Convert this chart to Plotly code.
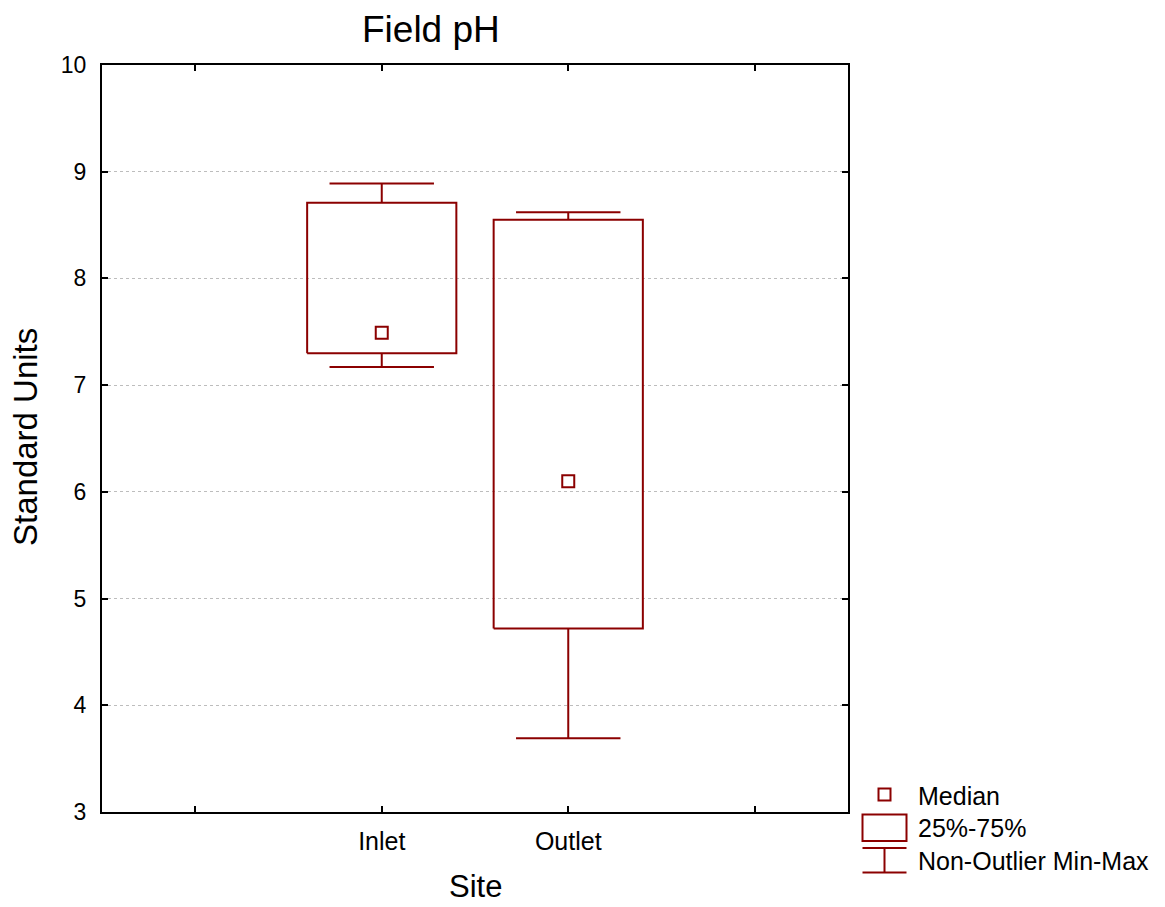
import plotly.graph_objects as go

# ---- data ----
sites = ["Inlet", "Outlet"]
site_pos = [1, 2]
minimum = [7.17, 3.69]
q1 = [7.30, 4.72]
median = [7.49, 6.10]
q3 = [8.71, 8.55]
maximum = [8.89, 8.62]
y_ticks = [3, 4, 5, 6, 7, 8, 9, 10]
x_tickvals = [0, 1, 2, 3]
x_ticktext = ["", "Inlet", "Outlet", ""]

COLOR = "#8B0000"
FONT = "Liberation Sans, Arial, sans-serif"
W, H = 1165, 907
L, R, T, B = 102, 317, 65, 95
PW, PH = W - L - R, H - T - B
BOX_HALF = 0.4
CAP_HALF = 0.28

fig = go.Figure()

for c, lo, a, m, b, hi in zip(site_pos, minimum, q1, median, q3, maximum):
    # box (25%-75%)
    fig.add_trace(go.Scatter(
        x=[c - BOX_HALF, c + BOX_HALF, c + BOX_HALF, c - BOX_HALF, c - BOX_HALF],
        y=[a, a, b, b, a], mode="lines",
        line=dict(color=COLOR, width=2), showlegend=False, hoverinfo="skip"))
    # whiskers
    fig.add_trace(go.Scatter(
        x=[c, c, None, c - CAP_HALF, c + CAP_HALF, None, c, c, None, c - CAP_HALF, c + CAP_HALF],
        y=[b, hi, None, hi, hi, None, a, lo, None, lo, lo], mode="lines",
        line=dict(color=COLOR, width=2), showlegend=False, hoverinfo="skip"))

# median markers
fig.add_trace(go.Scatter(
    x=site_pos, y=median, mode="markers",
    marker=dict(symbol="square-open", size=12, color=COLOR, line=dict(width=2, color=COLOR)),
    showlegend=False))


def px(xp):
    return (xp - L) / PW


def py(yp):
    return (H - B - yp) / PH


shapes = []
# legend symbols
shapes.append(dict(type="rect", xref="paper", yref="paper",
                   x0=px(878.5), x1=px(890.5), y0=py(800.5), y1=py(788.5),
                   line=dict(color=COLOR, width=2)))
shapes.append(dict(type="rect", xref="paper", yref="paper",
                   x0=px(862.5), x1=px(906.5), y0=py(841), y1=py(814.5),
                   line=dict(color=COLOR, width=2)))
for yy in (848, 872.5):
    shapes.append(dict(type="line", xref="paper", yref="paper",
                       x0=px(862.5), x1=px(906.5), y0=py(yy), y1=py(yy),
                       line=dict(color=COLOR, width=2)))
shapes.append(dict(type="line", xref="paper", yref="paper",
                   x0=px(884.5), x1=px(884.5), y0=py(848), y1=py(872.5),
                   line=dict(color=COLOR, width=2)))

legend_labels = ["Median", "25%-75%", "Non-Outlier Min-Max"]
legend_y = [796, 828, 861]
annotations = []
for lab, yy in zip(legend_labels, legend_y):
    annotations.append(dict(text=lab, xref="paper", yref="paper", x=px(916), y=py(yy),
                            xanchor="left", yanchor="middle", showarrow=False,
                            font=dict(family=FONT, size=25, color="black")))

annotations.append(dict(text="Field pH", xref="paper", yref="paper", x=px(431), y=py(29),
                        xanchor="center", yanchor="middle", showarrow=False,
                        font=dict(family=FONT, size=37, color="black")))
annotations.append(dict(text="Standard Units", xref="paper", yref="paper", x=px(25), y=py(437),
                        xanchor="center", yanchor="middle", showarrow=False, textangle=-90,
                        font=dict(family=FONT, size=33, color="black")))
annotations.append(dict(text="Site", xref="paper", yref="paper", x=px(475), y=py(906),
                        xanchor="center", yanchor="bottom", showarrow=False,
                        font=dict(family=FONT, size=31, color="black")))

fig.update_layout(
    width=W, height=H,
    margin=dict(l=L, r=R, t=T, b=B, pad=0),
    paper_bgcolor="white", plot_bgcolor="white",
    showlegend=False,
    shapes=shapes, annotations=annotations,
    font=dict(family=FONT, color="black"),
)

fig.update_xaxes(
    range=[-0.5, 3.5], tickvals=x_tickvals, ticktext=x_ticktext,
    showgrid=False, zeroline=False,
    showline=True, linecolor="black", linewidth=2, mirror="ticks",
    ticks="inside", ticklen=6, tickwidth=2, tickcolor="black",
    tickfont=dict(family=FONT, size=25, color="black"), ticklabelstandoff=6,
)
fig.update_yaxes(
    range=[3, 10], tickvals=y_ticks, showgrid=True, gridcolor="#bdbdbd", griddash="dot", gridwidth=1,
    zeroline=False,
    showline=True, linecolor="black", linewidth=2, mirror="ticks",
    ticks="inside", ticklen=6, tickwidth=2, tickcolor="black",
    tickfont=dict(family=FONT, size=23, color="black"), ticklabelstandoff=9,
)

fig.write_html(
    "out.html",
    config={"displayModeBar": False},
    post_script="document.body.style.margin='0';document.body.style.overflow='hidden';",
)
